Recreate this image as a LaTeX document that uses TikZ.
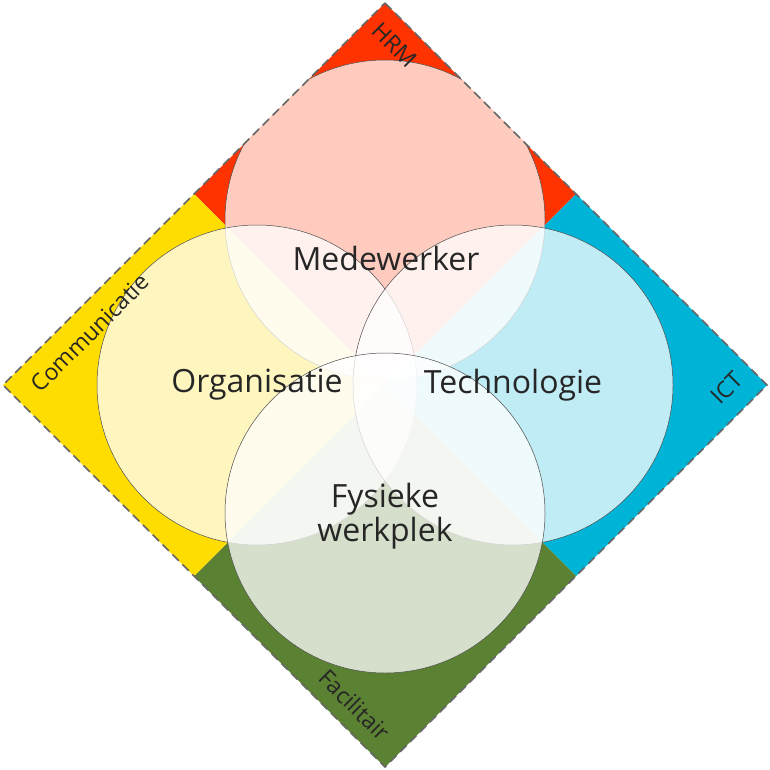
\documentclass[tikz,border=0pt]{standalone}
\usepackage{fontspec}
\setmainfont{Open Sans}
\definecolor{hrm}{HTML}{FF3300}
\definecolor{ict}{HTML}{00B4D8}
\definecolor{fac}{HTML}{5B8132}
\definecolor{com}{HTML}{FFDD00}
\begin{document}
\begin{tikzpicture}[x=1pt,y=-1pt,
  ring/.style={circle,minimum size=320pt,inner sep=0pt,draw=black!70,line width=0.5pt,fill=white,fill opacity=0.75},
  lab/.style={font=\fontsize{32}{38}\selectfont,text=black!85,align=center},
  edgelab/.style={font=\fontsize{23}{28}\selectfont,text=black!85}]
\useasboundingbox (0,0) rectangle (770,770);
\coordinate (T) at (385,3);
\coordinate (R) at (767,385);
\coordinate (B) at (385,767);
\coordinate (L) at (3,385);
\coordinate (C) at (385,385);
\coordinate (TR) at (576,194);
\coordinate (BR) at (576,576);
\coordinate (BL) at (194,576);
\coordinate (TL) at (194,194);
\fill[hrm] (T) -- (TR) -- (C) -- (TL) -- cycle;
\fill[ict] (TR) -- (R) -- (BR) -- (C) -- cycle;
\fill[fac] (BR) -- (B) -- (BL) -- (C) -- cycle;
\fill[com] (BL) -- (L) -- (TL) -- (C) -- cycle;
\begin{scope}
\clip (T) -- (R) -- (B) -- (L) -- cycle;
\node[ring] (top) at (385,220) {};
\node[ring] (left) at (257,385) {};
\node[ring] (right) at (513,385) {};
\node[ring] (bot) at (385,513) {};
\end{scope}
\draw[black!60,line width=1.5pt,dash pattern=on 9pt off 5pt] (T) -- (R) -- (B) -- (L) -- cycle;
\node[lab] (med) at (386,258) {Medewerker};
\node[lab] (org) at (257,385) {Organisatie};
\node[lab] (tec) at (513,385) {Technologie};
\node[lab] (fys) at (385,516) {Fysieke\\[-4pt]werkplek};
\node[edgelab,rotate=-45] (hrmL) at (395,45) {HRM};
\node[edgelab,rotate=45] (ictL) at (727,388) {ICT};
\node[edgelab,rotate=45] (comL) at (90,333) {Communicatie};
\node[edgelab,rotate=-45] (facL) at (355,705) {Facilitair};
\end{tikzpicture}
\end{document}
